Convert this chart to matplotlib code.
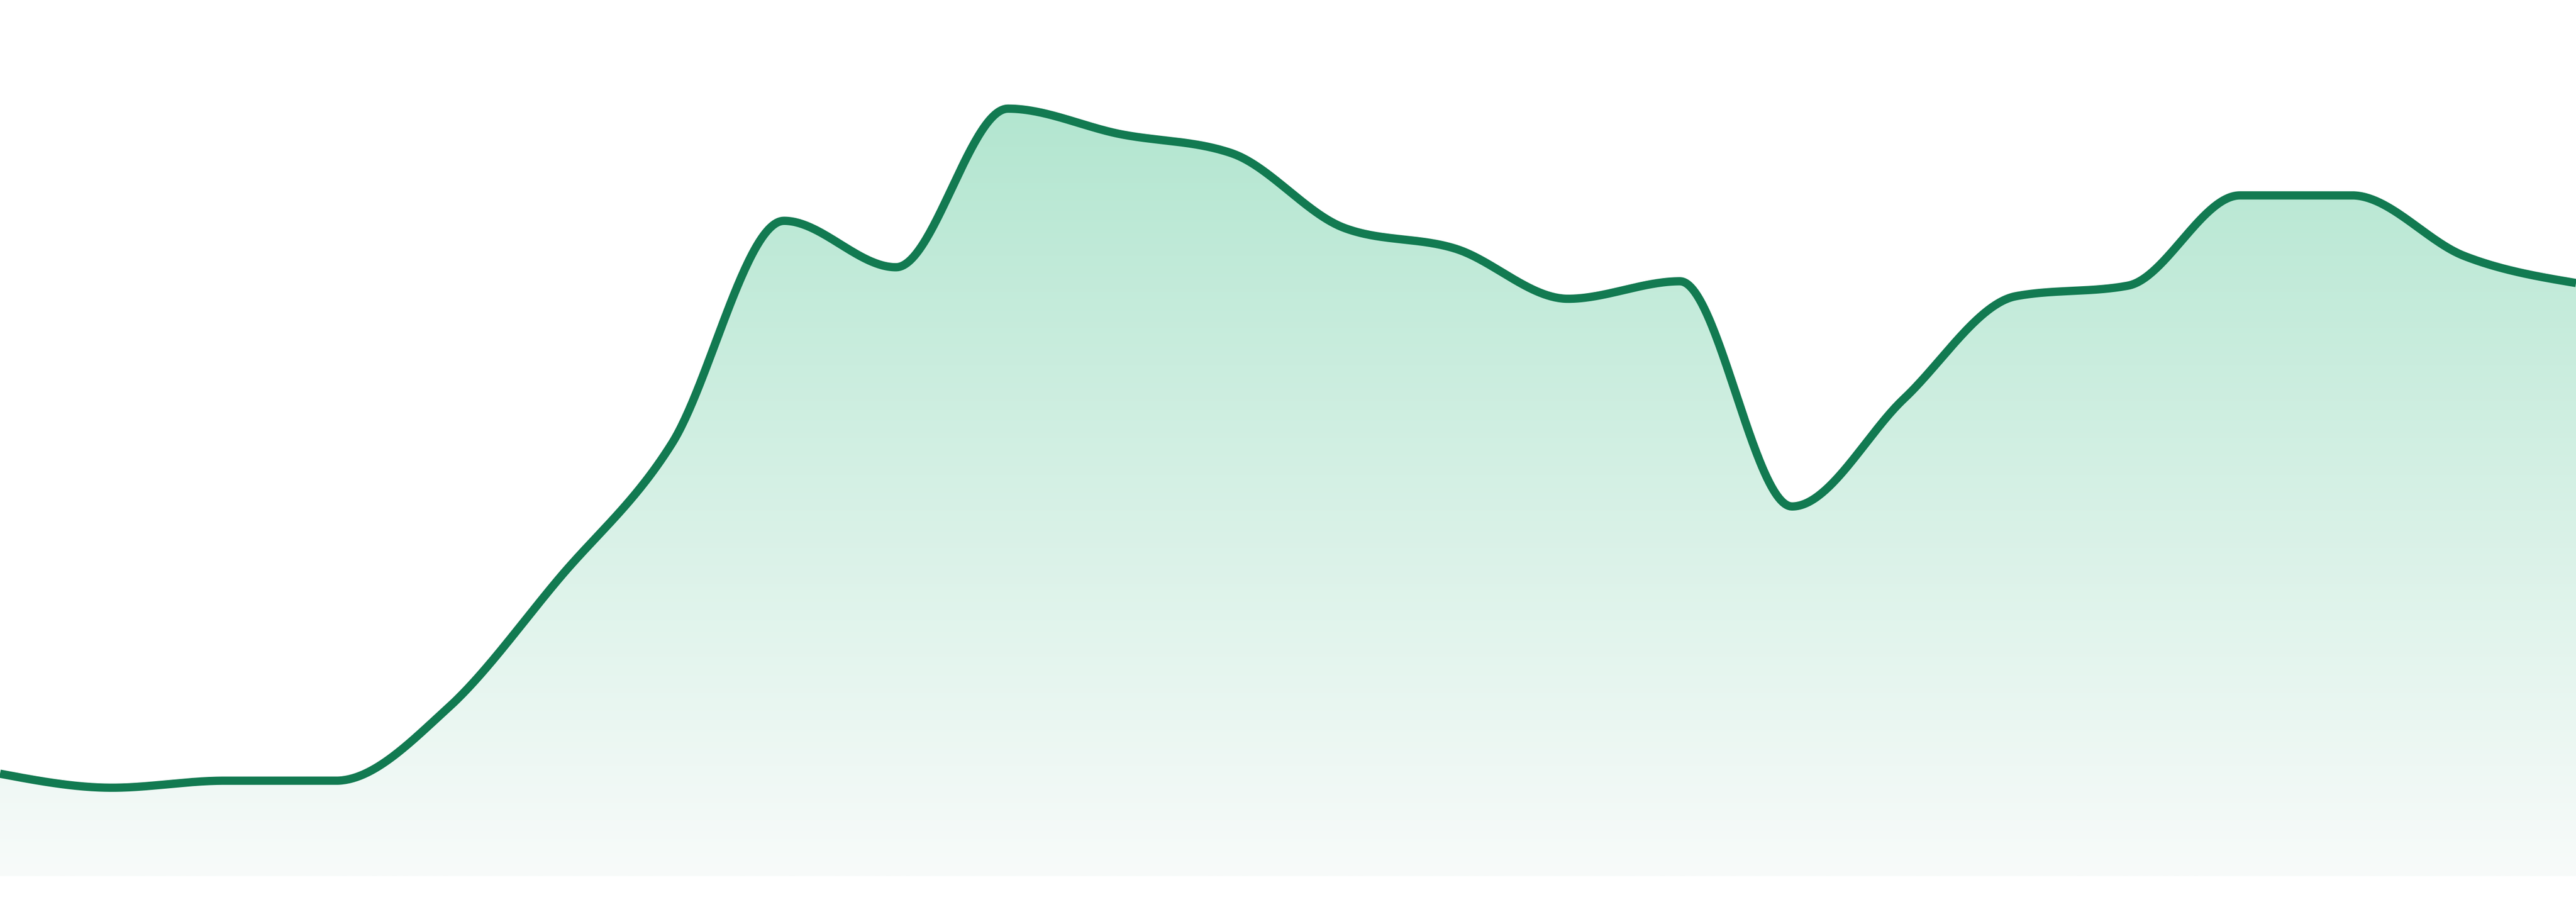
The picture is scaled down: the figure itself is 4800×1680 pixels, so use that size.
import numpy as np
import matplotlib
matplotlib.use("Agg")
import matplotlib.pyplot as plt
from matplotlib.colors import to_rgb

# ---- data ----
x_index = list(range(24))
values = [11.7, 10.1, 10.9, 10.9, 19.2, 34.1, 49.4, 74.8, 69.5, 87.6, 84.7, 82.5,
          74.0, 71.6, 65.9, 67.9, 42.2, 54.5, 66.2, 67.4, 77.7, 77.7, 70.8, 67.7]
y_min, y_max = 0, 100

line_color = "#127a51"
fill_top = "#a9e3ca"
fill_bottom = "#f8fbfa"


def monotone_x(x, y, n=60):
    """d3.curveMonotoneX style interpolation."""
    x = np.asarray(x, float)
    y = np.asarray(y, float)
    m = len(x)
    h = np.diff(x)
    s = np.diff(y) / h
    t = np.zeros(m)
    sgn = lambda v: -1.0 if v < 0 else 1.0
    for i in range(1, m - 1):
        h0, h1 = h[i - 1], h[i]
        s0, s1 = s[i - 1], s[i]
        p = (s0 * h1 + s1 * h0) / (h0 + h1)
        t[i] = (sgn(s0) + sgn(s1)) * min(abs(s0), abs(s1), 0.5 * abs(p))
    t[0] = (3 * s[0] - t[1]) / 2
    t[-1] = (3 * s[-1] - t[-2]) / 2
    xs, ys = [], []
    for i in range(m - 1):
        u = np.linspace(0, 1, n, endpoint=(i == m - 2))
        dx = h[i]
        h00 = 2 * u**3 - 3 * u**2 + 1
        h10 = u**3 - 2 * u**2 + u
        h01 = -2 * u**3 + 3 * u**2
        h11 = u**3 - u**2
        xs.append(x[i] + dx * u)
        ys.append(h00 * y[i] + h10 * dx * t[i] + h01 * y[i + 1] + h11 * dx * t[i + 1])
    return np.concatenate(xs), np.concatenate(ys)


fig = plt.figure(figsize=(16, 5.6), dpi=300)
fig.patch.set_facecolor("white")
ax = fig.add_axes([0, 48 / 1680, 1, 1632 / 1680])
ax.set_xlim(x_index[0], x_index[-1])
ax.set_ylim(y_min, y_max)
ax.axis("off")

xs, ys = monotone_x(x_index, values)

# gradient fill clipped to the area under the curve
poly = ax.fill_between(xs, ys, y_min, color="none", lw=0)
top = np.array(to_rgb(fill_top))
bot = np.array(to_rgb(fill_bottom))
frac = np.linspace(1, 0, 512)[:, None]
grad = (bot + (top - bot) * frac)[:, None, :]
grad = np.repeat(grad, 2, axis=1)
im = ax.imshow(grad, extent=[x_index[0], x_index[-1], y_min, y_max],
               aspect="auto", origin="upper", zorder=1, interpolation="bilinear")
path = poly.get_paths()[0]
im.set_clip_path(path, transform=ax.transData)

ax.plot(xs, ys, color=line_color, lw=3.7, solid_capstyle="butt",
        solid_joinstyle="round", zorder=3)

fig.savefig("out.png", dpi=300, facecolor="white")
